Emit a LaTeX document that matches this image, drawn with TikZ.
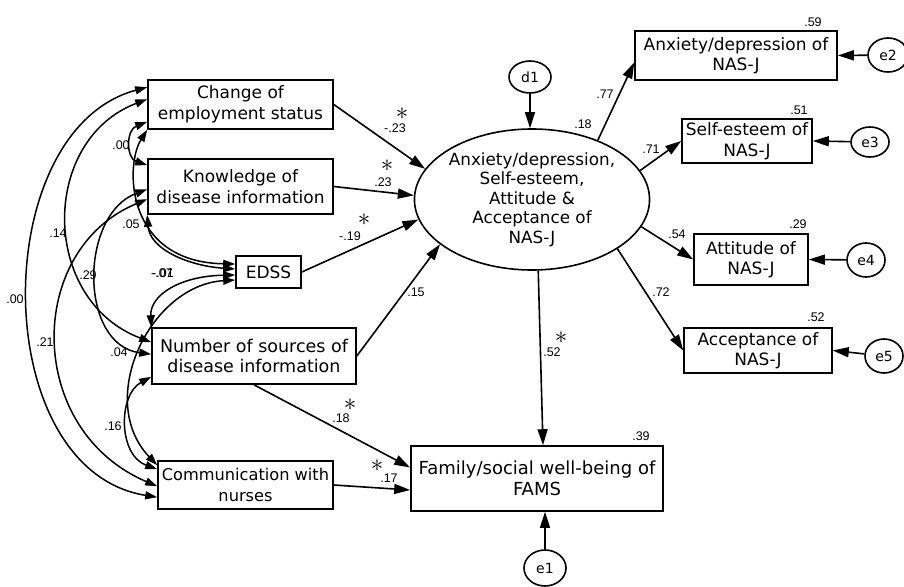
\documentclass[tikz,border=0pt]{standalone}
\usepackage{fontspec}
\setmainfont{DejaVu Sans}
\newfontfamily\numfont{Liberation Sans}
\usetikzlibrary{arrows.meta,shapes.geometric,calc}
\begin{document}
\begin{tikzpicture}[x=1pt,y=-1pt,
  box/.style={draw,line width=1.6pt,inner sep=0pt,align=center,font=\fontsize{17}{20.5}\selectfont},
  lat/.style={draw,ellipse,line width=1.6pt,inner sep=0pt,align=center,font=\fontsize{16.8}{19.5}\selectfont},
  err/.style={draw,ellipse,line width=1.6pt,inner sep=0pt,font=\fontsize{14}{14}\selectfont},
  lab/.style={inner sep=0pt,font=\numfont\fontsize{12.5}{12.5}\selectfont},
  astr/.style={inner sep=0pt,font=\fontsize{26}{26}\selectfont},
  reg/.style={line width=1.6pt,-{Triangle[length=16pt,width=10pt]}},
  cov/.style={line width=1.5pt,{Triangle[length=12pt,width=8pt]}-{Triangle[length=12pt,width=8pt]}}
]
\path[use as bounding box] (0,0) rectangle (904,586);

% observed boxes
\node[box,minimum width=185pt,minimum height=49pt] (C) at (240.5,104.5) {Change of\\employment status};
\node[box,minimum width=185pt,minimum height=55pt] (K) at (240.5,186.5) {Knowledge of\\disease information};
\node[box,minimum width=65pt,minimum height=32pt] (E) at (268.5,272) {EDSS};
\node[box,minimum width=204pt,minimum height=56pt,font=\fontsize{17.5}{20.5}\selectfont] (N) at (254,356) {Number of sources of\\disease information};
\node[box,minimum width=175pt,minimum height=48pt,font=\fontsize{16.2}{20.5}\selectfont] (M) at (245.5,485) {Communication with\\nurses};
\node[box,minimum width=252pt,minimum height=65pt,font=\fontsize{18}{21}\selectfont] (F) at (537,478.5) {Family/social well-being of\\FAMS};
\node[box,minimum width=202pt,minimum height=49pt] (A) at (736,55.5) {Anxiety/depression of\\NAS-J};
\node[box,minimum width=130pt,minimum height=44pt] (S) at (747,141) {Self-esteem of\\NAS-J};
\node[box,minimum width=114pt,minimum height=51pt] (T) at (751,259.5) {Attitude of\\NAS-J};
\node[box,minimum width=148pt,minimum height=45pt] (P) at (758,350.5) {Acceptance of\\NAS-J};

% latent
\node[lat,minimum width=235pt,minimum height=141pt] (L) at (532,199.5) {Anxiety/depression,\\Self-esteem,\\Attitude \&\\Acceptance of\\NAS-J};

% errors
\node[err,minimum width=42pt,minimum height=32pt] (d1) at (530,77) {d1};
\node[err,minimum width=42pt,minimum height=36pt] (e1) at (545,568) {e1};
\node[err,minimum width=40pt,minimum height=34pt] (e2) at (888,55) {e2};
\node[err,minimum width=38pt,minimum height=30pt] (e3) at (870,142) {e3};
\node[err,minimum width=38pt,minimum height=34pt] (e4) at (866,260) {e4};
\node[err,minimum width=38pt,minimum height=34pt] (e5) at (884,356) {e5};

% regression paths
\draw[reg] (C.east) -- (L.164);
\draw[reg] (K.east) -- (L.178);
\draw[reg] (E.east) -- (L.190);
\draw[reg] (N.east) -- (L.206);
\draw[reg] (L.275) -- ($(F.north)+(6,0)$);
\draw[reg] (N.south) -- ($(F.west)+(0,-11)$);
\draw[reg] (M.east) -- ($(F.west)+(0,11.5)$);
\draw[reg] (L.42) -- ($(A.west)+(0,7)$);
\draw[reg] (L.15) -- (S.west);
\draw[reg] (L.346) -- (T.west);
\draw[reg] (L.330.6) -- (P.west);
\draw[reg] (d1.south) -- (d1.south |- L.north);
\draw[reg] (e1.north) -- (e1.north |- F.south);
\draw[reg] (e2) -- (A.east);
\draw[reg] (e3) -- (S.east);
\draw[reg] (e4) -- (T.east);
\draw[reg] (e5) -- (P.east);

% covariance end points
\coordinate (c1) at ($(C.north west)+(0,8)$);
\coordinate (c2) at ($(C.north west)+(0,20)$);
\coordinate (c3) at ($(C.south west)+(0,-8)$);
\coordinate (c4) at (C.south west);
\coordinate (k1) at ($(K.north west)+(0,7)$);
\coordinate (k2) at ($(K.north west)+(0,31)$);
\coordinate (k3) at ($(K.north west)+(0,41)$);
\coordinate (k4) at (K.south west);
\coordinate (ea) at ($(E.west)+(0,-8)$);
\coordinate (eb) at ($(E.west)+(0,-3)$);
\coordinate (ec) at ($(E.west)+(0,3)$);
\coordinate (ed) at ($(E.west)+(0,8)$);
\coordinate (n1) at ($(N.north west)+(0,15)$);
\coordinate (n2) at ($(N.north west)+(0,27)$);
\coordinate (n3) at (N.north west);
\coordinate (n4) at ($(N.south west)+(0,-8)$);
\coordinate (m1) at ($(M.north west)+(0,5)$);
\coordinate (m2) at ($(M.north west)+(0,9)$);
\coordinate (m3) at ($(M.north west)+(0,26)$);
\coordinate (m4) at ($(M.north west)+(0,37)$);

% covariances
\draw[cov] (c1) .. controls (-13,130) and (-13,470) .. (m4);
\draw[cov] (c2) .. controls (40,140) and (40,300) .. (n1);
\draw[cov] (c3) .. controls (126,130) and (126,158) .. (k1);
\draw[cov] (c4) .. controls (125,165) and (125,262) .. (ea);
\draw[cov] (k4) .. controls (150,250) and (190,266) .. (eb);
\draw[cov] (k2) .. controls (79,215) and (79,345) .. (n2);
\draw[cov] (k3) .. controls (25,250) and (25,430) .. (m3);
\draw[cov] (ec) .. controls (180,276) and (150,295) .. (n3);
\draw[cov] (ed) .. controls (150,285) and (95,400) .. (m1);
\draw[cov] (n4) .. controls (118,395) and (118,455) .. (m2);

% coefficient labels
\node[astr] (s1) at (402,114) {$\ast$};
\node[lab] (t1) at (395,128) {-.23};
\node[astr] (s2) at (387,166) {$\ast$};
\node[lab] (t2) at (383,182) {.23};
\node[astr] (s3) at (364,220) {$\ast$};
\node[lab] (t3) at (350,236) {-.19};
\node[lab] (t4) at (416,292) {.15};
\node[astr] (s5) at (561,338) {$\ast$};
\node[lab] (t5) at (552,352) {.52};
\node[astr] (s6) at (350,405) {$\ast$};
\node[lab] (t6) at (341,418) {.18};
\node[astr] (s7) at (377,466) {$\ast$};
\node[lab] (t7) at (389,478) {.17};
\node[lab] (t8) at (641,436) {.39};
\node[lab] (t9) at (583,124) {.18};
\node[lab] (t10) at (605,94) {.77};
\node[lab] (t11) at (813,22) {.59};
\node[lab] (t12) at (651,149) {.71};
\node[lab] (t13) at (799,110) {.51};
\node[lab] (t14) at (677,234) {.54};
\node[lab] (t15) at (798,224) {.29};
\node[lab] (t16) at (661,292) {.72};
\node[lab] (t17) at (816,317) {.52};
\node[lab] (u1) at (121,145) {.00};
\node[lab] (u2) at (131,224) {.05};
\node[lab] (u3) at (58,233) {.14};
\node[lab] (u4) at (88,275) {.29};
\node[lab] (u5) at (162,273) {-.07};
\node[lab] (u6) at (163,273) {-.01};
\node[lab] (u7) at (15,299) {.00};
\node[lab] (u8) at (45,342) {.21};
\node[lab] (u9) at (119,352) {.04};
\node[lab] (u10) at (113,426) {.16};
\end{tikzpicture}
\end{document}
